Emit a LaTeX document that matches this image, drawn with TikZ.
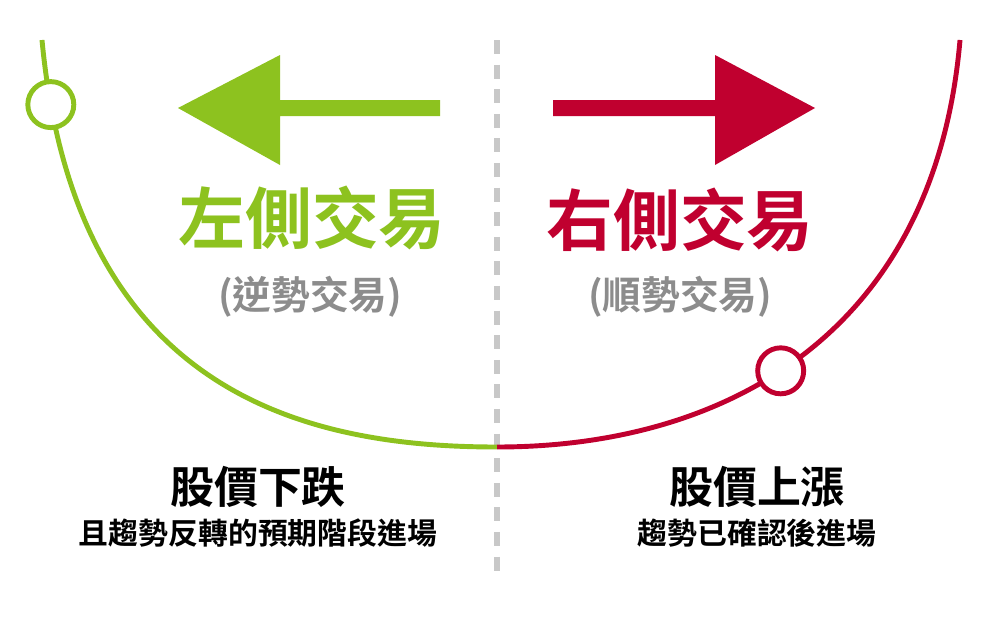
\documentclass[tikz,border=0pt]{standalone}
\usepackage{fontspec}
\newfontfamily\cjk{Noto Sans CJK TC}[BoldFont={* Bold}]
\definecolor{lg}{HTML}{8DC21F}
\definecolor{rd}{HTML}{C0002F}
\definecolor{sub}{HTML}{8C8C8C}
\definecolor{dashgray}{HTML}{C8C8C8}
\begin{document}
\begin{tikzpicture}[x=0.02cm,y=-0.02cm,
  ring/.style={circle,draw=#1,line width=2.8pt,fill=white,minimum size=0.92cm,inner sep=0},
  big/.style={font=\cjk\bfseries\fontsize{38}{40}\selectfont,text=#1},
  subt/.style={font=\cjk\bfseries\fontsize{22}{24}\selectfont,text=sub},
  captitle/.style={font=\cjk\bfseries\fontsize{25}{27}\selectfont},
  capline/.style={font=\cjk\bfseries\fontsize{17}{19}\selectfont}]
\useasboundingbox (0,0) rectangle (1000,622);
\draw[dashgray,line width=3.4pt,dash pattern=on 8pt off 6pt] (497,40) coordinate (d1) -- (497,578) coordinate (d2);
\coordinate (gs) at (42,40); \coordinate (bot) at (497,447); \coordinate (rs) at (960,40);
\draw[lg,line width=2.8pt] (gs) .. controls (75,390) and (300,447) .. (bot) node[pos=0.065,ring=lg] (c1) {};
\draw[rd,line width=2.8pt] (bot) .. controls (730,447) and (935,330) .. (rs) node[pos=0.45,ring=rd] (c2) {};
\fill[lg] (440,100) -- (280,100) -- (280,55) -- (178,108) -- (280,165) -- (280,116) -- (440,116) -- cycle;
\fill[rd] (553,100) -- (715,100) -- (715,55) -- (815,108) -- (715,165) -- (715,116) -- (553,116) -- cycle;
\node[big=lg] (t1) at (312,218) {左側交易};
\node[subt] (s1) at (310,297) {(逆勢交易)};
\node[big=rd] (t2) at (680,220) {右側交易};
\node[subt] (s2) at (680,297) {(順勢交易)};
\node[captitle] (b1) at (258,487) {股價下跌};
\node[capline] (l1) at (258,533) {且趨勢反轉的預期階段進場};
\node[captitle] (b2) at (757,487) {股價上漲};
\node[capline] (l2) at (757,533) {趨勢已確認後進場};
\end{tikzpicture}
\end{document}
